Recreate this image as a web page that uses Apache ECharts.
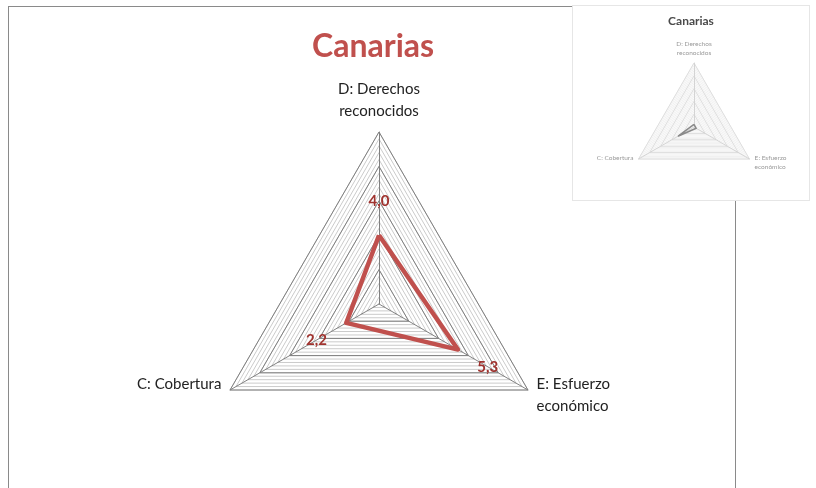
<!DOCTYPE html>
<html>
<head>
<meta charset="utf-8">
<script src="https://cdn.jsdelivr.net/npm/echarts@6/dist/echarts.min.js"></script>
<style>
  html, body { margin: 0; padding: 0; background: #fff; overflow: hidden; }
  #main {
    position: absolute; left: 8px; top: 6px; width: 728px; height: 500px;
    border: 1px solid #8a8a8a; box-sizing: border-box; background: #fff;
  }
  #inset {
    position: absolute; left: 572px; top: 5px; width: 238px; height: 196px;
    border: 1px solid #e6e6e6; box-sizing: border-box; background: #fff; z-index: 2;
  }
</style>
</head>
<body>
<div id="main"></div>
<div id="inset"></div>
<script>
// ejes del radar (orden ECharts: arriba, abajo-izq, abajo-der)
const indicatorNames = ['D: Derechos\nreconocidos', 'C: Cobertura\n ', 'E: Esfuerzo\neconómico'];
const axisMax = 10;
// valores Canarias
const mainValues = [4.0, 2.2, 5.3];
// miniatura de la esquina
const insetTitle = 'Canarias';
const insetValues = [0.4, 2.8, 0.4];

// separación de la etiqueta respecto al punto, en unidades del eje
const LABEL_GAP = 2;

const fmt = v => v.toFixed(1).replace('.', ',');
const indicators = indicatorNames.map(n => ({ name: n, min: 0, max: axisMax }));

const mainChart = echarts.init(document.getElementById('main'));
const center = [370, 297];
const radius = 172;

mainChart.setOption({
  animation: false,
  title: {
    text: 'Canarias',
    left: 298, top: 19,
    textStyle: { fontFamily: 'Lato', fontWeight: 'bold', fontSize: 32, color: '#c0504d' }
  },
  radar: [
    {
      // líneas secundarias
      indicator: indicators, center: center, radius: radius, splitNumber: 25,
      shape: 'polygon', axisName: { show: false },
      axisLine: { show: false }, axisTick: { show: false },
      splitArea: { show: false },
      splitLine: { lineStyle: { color: '#cbcbcb', width: 1 } }
    },
    {
      indicator: indicators, center: center, radius: radius, splitNumber: 5,
      shape: 'polygon', axisNameGap: 10,
      axisName: { color: '#222', fontFamily: 'Lato', fontSize: 15, lineHeight: 22 },
      axisLine: { lineStyle: { color: '#808080', width: 1 } },
      axisTick: { show: false },
      splitArea: { show: false },
      splitLine: { lineStyle: { color: '#808080', width: 1 } }
    }
  ],
  series: [
    {
      type: 'radar', radarIndex: 1, symbol: 'none',
      lineStyle: { color: '#c0504d', width: 4.5 },
      data: [{ value: mainValues }]
    },
    {
      // etiquetas de datos, desplazadas hacia fuera
      type: 'radar', radarIndex: 1, symbol: 'circle', symbolSize: 1,
      itemStyle: { color: 'rgba(0,0,0,0)' },
      lineStyle: { width: 0, opacity: 0 },
      label: {
        show: true, position: 'inside',
        fontFamily: 'Lato', fontWeight: 'bold', fontSize: 15, color: '#a0332f',
        formatter: p => fmt(p.value - LABEL_GAP)
      },
      data: [{ value: mainValues.map(v => v + LABEL_GAP) }]
    }
  ]
});

const insetChart = echarts.init(document.getElementById('inset'));
const insetIndicators = indicatorNames.map(n => ({ name: n, min: 0, max: axisMax }));
insetChart.setOption({
  animation: false,
  title: {
    text: insetTitle, left: 'center', top: 4,
    textStyle: { fontFamily: 'Lato', fontWeight: 'bold', fontSize: 12, color: '#4a4a4a' }
  },
  radar: [
    {
      indicator: insetIndicators, center: [121, 121], radius: 64, splitNumber: 25,
      shape: 'polygon', axisName: { show: false },
      axisLine: { show: false }, axisTick: { show: false },
      splitArea: { show: false },
      splitLine: { lineStyle: { color: '#f1f1f1', width: 1 } }
    },
    {
      indicator: insetIndicators, center: [121, 121], radius: 64, splitNumber: 5,
      shape: 'polygon', axisNameGap: 6,
      axisName: { color: '#999', fontFamily: 'Lato', fontSize: 6.5, lineHeight: 9 },
      axisLine: { lineStyle: { color: '#d4d4d4', width: 1 } },
      axisTick: { show: false },
      splitArea: { show: false },
      splitLine: { lineStyle: { color: '#dedede', width: 1 } }
    }
  ],
  series: [
    {
      type: 'radar', radarIndex: 1, symbol: 'none',
      lineStyle: { color: '#8a8a8a', width: 1.5 },
      data: [{ value: insetValues }]
    }
  ]
});
</script>
</body>
</html>
